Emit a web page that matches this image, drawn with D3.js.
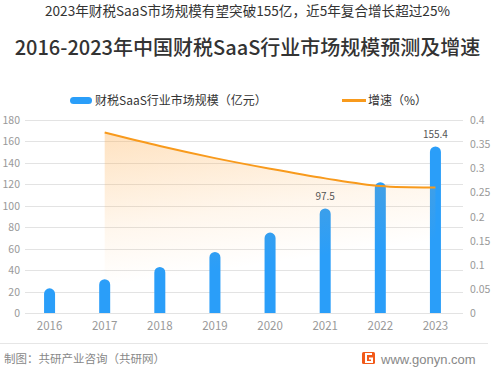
<!DOCTYPE html>
<html>
<head>
<meta charset="utf-8">
<script src="https://cdn.jsdelivr.net/npm/d3@7"></script>
<style>
  body { margin: 0; background: #fff; }
  svg { display: block; font-family: "Noto Sans CJK SC", "Noto Sans", sans-serif; }
</style>
</head>
<body>
<script>
const years = ['2016', '2017', '2018', '2019', '2020', '2021', '2022', '2023']
const marketSize = [23, 31.5, 43, 57, 75, 97.5, 122, 155.4]
const growth = [null, 0.374, 0.346, 0.321, 0.299, 0.279, 0.263, 0.26]
const leftTicks = [0, 20, 40, 60, 80, 100, 120, 140, 160, 180]
const rightTicks = [0, 0.05, 0.1, 0.15, 0.2, 0.25, 0.3, 0.35, 0.4]
const labelled = { '2021': '97.5', '2023': '155.4' }

const width = 495, height = 370
const margin = { top: 120, right: 32, bottom: 57, left: 22 }

const svg = d3.select('body').append('svg')
  .attr('width', width).attr('height', height)

const x = d3.scaleBand().domain(years)
  .range([margin.left, width - margin.right])
const y = d3.scaleLinear().domain([0, 180])
  .range([height - margin.bottom, margin.top])
const y2 = d3.scaleLinear().domain([0, 0.4])
  .range([height - margin.bottom, margin.top])

// titles
svg.append('text').attr('x', width / 2).attr('y', 16)
  .attr('text-anchor', 'middle').attr('font-size', 13.6).attr('fill', '#333')
  .text('2023年财税SaaS市场规模有望突破155亿，近5年复合增长超过25%')
svg.append('text').attr('x', width / 2).attr('y', 55)
  .attr('text-anchor', 'middle').attr('font-size', 20).attr('font-weight', 500).attr('fill', '#333')
  .text('2016-2023年中国财税SaaS行业市场规模预测及增速')

// legend
svg.append('rect').attr('x', 70).attr('y', 97).attr('width', 22).attr('height', 7)
  .attr('rx', 3.5).attr('fill', '#2a9ef9')
svg.append('text').attr('x', 95).attr('y', 105).attr('font-size', 12).attr('fill', '#333')
  .text('财税SaaS行业市场规模（亿元）')
svg.append('rect').attr('x', 342).attr('y', 99).attr('width', 24).attr('height', 3)
  .attr('fill', '#f89a1c')
svg.append('text').attr('x', 368).attr('y', 105).attr('font-size', 12).attr('fill', '#333')
  .text('增速（%）')

// grid + left axis
const gridX0 = margin.left + 3, gridX1 = width - margin.right
svg.append('g').selectAll('line').data(leftTicks).join('line')
  .attr('x1', gridX0).attr('x2', gridX1)
  .attr('y1', (d) => Math.round(y(d)) + 0.5).attr('y2', (d) => Math.round(y(d)) + 0.5)
  .attr('stroke', '#e3e3e3')
svg.append('g').selectAll('text').data(leftTicks).join('text')
  .attr('x', 20).attr('y', (d) => y(d) + 4)
  .attr('text-anchor', 'end').attr('font-size', 10.5).attr('fill', '#999')
  .text((d) => d)

// right axis
svg.append('g').selectAll('text').data(rightTicks).join('text')
  .attr('x', 470).attr('y', (d) => y2(d) + 4)
  .attr('font-size', 10.5).attr('fill', '#999')
  .text((d) => d)

// year labels
svg.append('g').selectAll('text').data(years).join('text')
  .attr('x', (d) => x(d) + x.bandwidth() / 2).attr('y', 330)
  .attr('text-anchor', 'middle').attr('font-size', 11.5).attr('fill', '#999')
  .text((d) => d)

// bars with rounded top
const bw = 11
svg.append('g').selectAll('path').data(years).join('path')
  .attr('fill', '#2a9ef9')
  .attr('d', (d, i) => {
    const cx = x(d) + x.bandwidth() / 2, x0 = cx - bw / 2
    const top = y(marketSize[i]), base = y(0), r = bw / 2
    return `M${x0},${base}V${top + r}A${r},${r} 0 0 1 ${x0 + bw},${top + r}V${base}Z`
  })

// growth area + line
const pts = years.map((d, i) => [x(d) + x.bandwidth() / 2, growth[i]]).filter((p) => p[1] != null)
const defs = svg.append('defs')
const grad = defs.append('linearGradient').attr('id', 'ag')
  .attr('x1', 0).attr('y1', 0).attr('x2', 0.25).attr('y2', 1)
grad.append('stop').attr('offset', 0).attr('stop-color', '#fdab4a').attr('stop-opacity', 0.35)
grad.append('stop').attr('offset', 0.5).attr('stop-color', '#fdab4a').attr('stop-opacity', 0.1)
grad.append('stop').attr('offset', 0.8).attr('stop-color', '#fdab4a').attr('stop-opacity', 0)

const curve = d3.curveCatmullRom.alpha(0.5)
const area = d3.area().curve(curve)
  .x((p) => p[0]).y0(y2(0)).y1((p) => y2(p[1]))
svg.append('path').datum(pts).attr('d', area).attr('fill', 'url(#ag)')

const line = d3.line().curve(curve)
  .x((p) => p[0]).y((p) => y2(p[1]))
svg.append('path').datum(pts).attr('d', line)
  .attr('fill', 'none').attr('stroke', '#f89a1c').attr('stroke-width', 2)

// value labels
svg.append('g').selectAll('text').data(years.filter((d) => labelled[d])).join('text')
  .attr('x', (d) => x(d) + x.bandwidth() / 2)
  .attr('y', (d) => y(marketSize[years.indexOf(d)]) - 8)
  .attr('text-anchor', 'middle').attr('font-size', 10).attr('fill', '#555')
  .text((d) => labelled[d])

// footer
svg.append('line').attr('x1', 0).attr('x2', 488).attr('y1', 343.5).attr('y2', 343.5)
  .attr('stroke', '#e6e6e6')
svg.append('text').attr('x', 4).attr('y', 363).attr('font-size', 11.5).attr('fill', '#888')
  .text('制图：共研产业咨询（共研网）')
const logo = svg.append('g').attr('transform', 'translate(362,352)')
logo.append('rect').attr('width', 13).attr('height', 12).attr('rx', 1.5).attr('fill', '#f25a1a')
logo.append('path').attr('d', 'M10,2H4V10H10V6.5H7').attr('fill', 'none')
  .attr('stroke', '#fff').attr('stroke-width', 2)
svg.append('text').attr('x', 381).attr('y', 364).attr('font-size', 13).attr('fill', '#888')
  .attr('font-family', 'Liberation Sans, sans-serif')
  .text('www.gonyn.com')
</script>
</body>
</html>
